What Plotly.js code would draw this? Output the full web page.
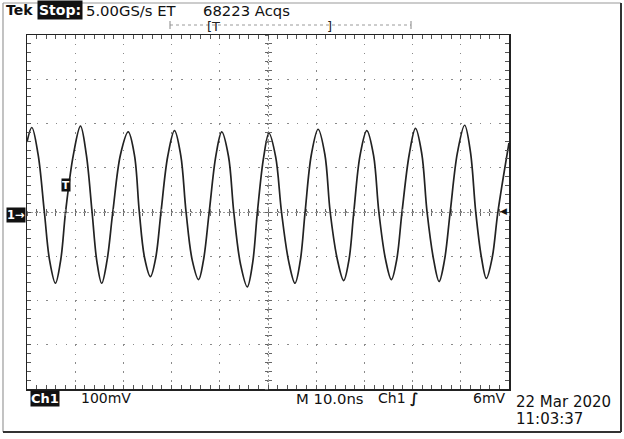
<!DOCTYPE html>
<html>
<head>
<meta charset="utf-8">
<script src="https://cdn.plot.ly/plotly-3.0.1.min.js"></script>
<style>
html,body{margin:0;padding:0;background:#fff;}
#chart{width:624px;height:439px;}
</style>
</head>
<body>
<div id="chart"></div>
<script>
// Waveform: time in ns (10 ns/div), voltage in mV (100 mV/div)
const timeNs = [
  0.0, 1.0, 2.3, 3.6, 4.7, 5.9, 7.0, 8.0, 9.6,
  11.1, 12.3, 13.5, 14.5, 15.5, 16.6, 17.8, 19.4,
  21.0, 22.3, 23.3, 24.4, 25.6, 26.7, 27.8, 29.2,
  30.6, 31.9, 33.0, 34.3, 35.6, 36.6, 37.8, 39.2,
  40.4, 41.8, 42.9, 44.3, 45.7, 46.8, 47.8, 49.1,
  50.2, 51.6, 52.8, 54.3, 55.6, 56.7, 57.7, 59.0,
  60.4, 61.8, 62.9, 64.4, 65.7, 66.8, 67.8, 69.1,
  70.5, 71.9, 73.0, 74.4, 75.6, 76.7, 77.8, 79.3,
  80.6, 81.9, 83.0, 84.4, 85.5, 86.6, 87.8, 89.3,
  90.8, 92.0, 93.1, 94.3, 95.3, 96.5, 97.7, 100.0
];
const voltMv = [
  158, 191, 130, 0, -110, -161, -108, 0, 128,
  194, 130, 0, -112, -161, -110, 0, 130,
  181, 128, 0, -104, -146, -104, 0, 126,
  184, 128, 0, -110, -153, -110, 0, 128,
  181, 126, 0, -118, -169, -116, 0, 124,
  178, 124, 0, -112, -161, -110, 0, 130,
  187, 130, 0, -108, -155, -108, 0, 128,
  184, 128, 0, -108, -153, -108, 0, 130,
  189, 132, 0, -110, -157, -110, 0, 134,
  196, 136, 0, -104, -150, -104, 0, 156
];
const timeRange = [0, 100];
const voltRange = [-400, 400];
const headerTexts = ["Tek", "Stop:", "5.00GS/s ET", "68223 Acqs"];
const footerTexts = ["Ch1", "100mV", "M 10.0ns", "Ch1", "\u222B", "6mV"];
const dateTexts = ["22 Mar 2020", "11:03:37"];

// pixel geometry of the graticule
const L = 27, R = 509, T = 35, B = 389;
const px = x => (x - L) / (R - L);
const py = y => (B - y) / (B - T);
const FONT = "DejaVu Sans";

const traces = [
  {x: timeNs, y: voltMv, type: 'scatter', mode: 'lines',
   line: {color: '#222', width: 1.7, shape: 'spline', smoothing: 1},
   hoverinfo: 'skip', showlegend: false},
  {x: [], y: [], xaxis: 'x2', yaxis: 'y2', type: 'scatter', showlegend: false, hoverinfo: 'skip'},
  {x: [], y: [], xaxis: 'x3', yaxis: 'y3', type: 'scatter', showlegend: false, hoverinfo: 'skip'},
  {x: [], y: [], xaxis: 'x4', yaxis: 'y4', type: 'scatter', showlegend: false, hoverinfo: 'skip'}
];

const baseAx = {showticklabels: false, zeroline: false, fixedrange: true};

function ann(text, x, y, opts) {
  return Object.assign({
    text: text, x: px(x), y: py(y), xref: 'paper', yref: 'paper',
    xanchor: 'left', yanchor: 'middle', showarrow: false,
    font: {family: FONT, size: 14, color: '#111'}
  }, opts || {});
}
function hline(x0, x1, y, color, width, dash) {
  return {type: 'line', xref: 'paper', yref: 'paper', x0: px(x0), x1: px(x1), y0: py(y), y1: py(y),
          line: {color: color, width: width, dash: dash || 'solid'}};
}
function vline(x, y0, y1, color, width) {
  return {type: 'line', xref: 'paper', yref: 'paper', x0: px(x), x1: px(x), y0: py(y0), y1: py(y1),
          line: {color: color, width: width}};
}

const layout = {
  width: 624, height: 439,
  margin: {l: L, r: 624 - R, t: T, b: 439 - B, pad: 0},
  paper_bgcolor: '#fff', plot_bgcolor: '#fff',
  showlegend: false,
  xaxis: Object.assign({}, baseAx, {
    range: timeRange, dtick: 10, tick0: 0,
    showgrid: true, gridcolor: '#8a8a8a', gridwidth: 1.3, griddash: '1.4px,7.45px',
    showline: true, linecolor: '#222', linewidth: 1.5, mirror: 'ticks',
    ticks: 'inside', ticklen: 4, tickcolor: '#555', tickwidth: 1,
    minor: {dtick: 2, tick0: 0, ticks: 'inside', ticklen: 4, tickcolor: '#555', tickwidth: 1, showgrid: false}
  }),
  yaxis: Object.assign({}, baseAx, {
    range: voltRange, dtick: 100, tick0: 0,
    showgrid: true, gridcolor: '#8a8a8a', gridwidth: 1.3, griddash: '1.4px,8.24px',
    showline: true, linecolor: '#222', linewidth: 1.5, mirror: 'ticks',
    ticks: 'inside', ticklen: 4, tickcolor: '#555', tickwidth: 1,
    minor: {dtick: 20, tick0: 0, ticks: 'inside', ticklen: 4, tickcolor: '#555', tickwidth: 1, showgrid: false}
  }),
  xaxis2: Object.assign({}, baseAx, {overlaying: 'x', anchor: 'y', range: timeRange,
    tickvals: [50], ticks: '', showgrid: true, gridcolor: '#999', gridwidth: 1, griddash: '2px,2px', showline: false}),
  yaxis2: Object.assign({}, baseAx, {overlaying: 'y', anchor: 'x', range: voltRange,
    tickvals: [0], ticks: '', showgrid: true, gridcolor: '#999', gridwidth: 1, griddash: '2px,2px', showline: false}),
  xaxis3: Object.assign({}, baseAx, {overlaying: 'x', anchor: 'free', position: 0.5, range: timeRange,
    dtick: 2, tick0: 0, ticks: 'outside', ticklen: 3, tickcolor: '#666', showgrid: false, showline: false}),
  yaxis3: Object.assign({}, baseAx, {overlaying: 'y', anchor: 'free', position: 0.5, range: voltRange,
    dtick: 20, tick0: 0, ticks: 'outside', ticklen: 3, tickcolor: '#666', showgrid: false, showline: false}),
  xaxis4: Object.assign({}, baseAx, {overlaying: 'x', anchor: 'free', position: 0.5, range: timeRange,
    dtick: 2, tick0: 0, ticks: 'inside', ticklen: 3, tickcolor: '#666', showgrid: false, showline: false}),
  yaxis4: Object.assign({}, baseAx, {overlaying: 'y', anchor: 'free', position: 0.5, range: voltRange,
    dtick: 20, tick0: 0, ticks: 'inside', ticklen: 3, tickcolor: '#666', showgrid: false, showline: false}),
  shapes: [
    // outer frame
    hline(3, 621, 3, '#9a9a9a', 1.2),
    vline(3, 3, 432, '#9a9a9a', 1.2),
    vline(621, 3, 432, '#333', 2),
    hline(3, 621, 432, '#333', 2),
    // record bar at top
    hline(170, 411, 25, '#9a9a9a', 1, 'dot'),
    vline(170, 21, 29, '#888', 1),
    vline(411, 21, 29, '#888', 1)
  ],
  annotations: [
    ann(headerTexts[0], 4, 10, {font: {family: FONT, size: 14, color: '#111', weight: 'bold'}}),
    ann(headerTexts[1], 37, 10, {bgcolor: '#111', borderpad: 1, font: {family: FONT, size: 14, color: '#fff', weight: 'bold'}}),
    ann(headerTexts[2], 84, 10, {font: {family: FONT, size: 14.8, color: '#111'}}),
    ann(headerTexts[3], 201, 10, {font: {family: FONT, size: 14.8, color: '#111'}}),
    ann('[T', 205, 26, {font: {family: FONT, size: 13, color: '#222'}}),
    ann(']', 325, 26, {font: {family: FONT, size: 13, color: '#222'}}),
    // channel marker at left
    ann('1\u2192', 6, 215, {bgcolor: '#111', borderpad: 0, font: {family: FONT, size: 11.5, color: '#fff', weight: 'bold'}}),
    // trigger level marker at right
    ann('\u25C0', 509, 211, {xanchor: 'right', font: {family: FONT, size: 9, color: '#111'}}),
    // trigger point marker on the trace
    ann('T', 61, 185, {bgcolor: '#111', borderpad: 0, font: {family: FONT, size: 10.5, color: '#fff', weight: 'bold'}}),
    // footer
    ann(footerTexts[0], 30, 398, {bgcolor: '#111', borderpad: 0, font: {family: FONT, size: 13, color: '#fff', weight: 'bold'}}),
    ann(footerTexts[1], 79, 398),
    ann(footerTexts[2], 294, 398, {font: {family: FONT, size: 14.8, color: '#111'}}),
    ann(footerTexts[3], 376, 398),
    ann(footerTexts[4], 408, 398, {font: {family: FONT, size: 14, color: '#111', weight: 'bold'}}),
    ann(footerTexts[5], 508, 398, {xanchor: 'right'}),
    ann(dateTexts[0], 514, 402, {font: {family: FONT, size: 15, color: '#111'}}),
    ann(dateTexts[1], 514, 419, {font: {family: FONT, size: 15, color: '#111'}})
  ]
};

Plotly.newPlot('chart', traces, layout, {staticPlot: true, displayModeBar: false});
</script>
</body>
</html>
